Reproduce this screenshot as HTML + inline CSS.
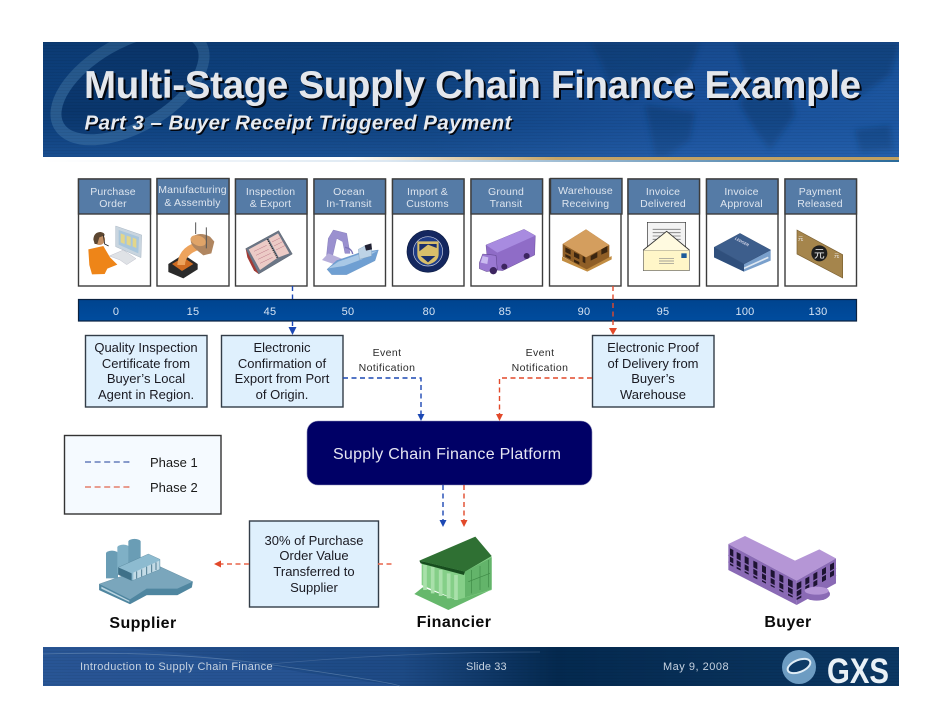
<!DOCTYPE html>
<html><head><meta charset="utf-8"><title>Multi-Stage Supply Chain Finance Example</title>
<style>
html,body{margin:0;padding:0;background:#fff;width:942px;height:728px;overflow:hidden}
svg{display:block}
text{font-family:"Liberation Sans",sans-serif}
.st{font-size:10.5px;fill:#dde5ef;text-anchor:middle;letter-spacing:.15px}
.num{font-size:11px;fill:#d5e3f3;text-anchor:middle;letter-spacing:.2px}
.bx{font-size:13px;fill:#1a1a22;text-anchor:middle}
.ev{font-size:10.5px;fill:#2a2a2a;text-anchor:middle;letter-spacing:.4px}
.ft{font-size:11px;fill:#c6d2e0;letter-spacing:.4px}
.lb{font-size:16px;font-weight:bold;fill:#0a0a0a;text-anchor:middle;letter-spacing:.4px}
</style></head><body>
<svg width="942" height="728" viewBox="0 0 942 728" xmlns="http://www.w3.org/2000/svg">
<defs>
<linearGradient id="hd" x1="0" y1="0" x2="1" y2="0"><stop offset="0" stop-color="#0c3d78"/><stop offset=".45" stop-color="#0f427f"/><stop offset=".75" stop-color="#1a5099"/><stop offset="1" stop-color="#1c56a0"/></linearGradient>
<linearGradient id="hv" x1="0" y1="0" x2="0" y2="1"><stop offset="0" stop-color="#062a55" stop-opacity=".2"/><stop offset=".6" stop-color="#1b5aa8" stop-opacity="0"/><stop offset="1" stop-color="#3a78c8" stop-opacity=".3"/></linearGradient>
<linearGradient id="gold" x1="0" y1="0" x2="1" y2="0"><stop offset="0" stop-color="#fff"/><stop offset=".36" stop-color="#fff"/><stop offset=".6" stop-color="#c4a468"/><stop offset="1" stop-color="#c0a060"/></linearGradient>
<linearGradient id="below" x1="0" y1="0" x2="1" y2="0"><stop offset="0" stop-color="#fff"/><stop offset=".4" stop-color="#dde8f2"/><stop offset="1" stop-color="#2a6a9a"/></linearGradient>
<linearGradient id="ftg" x1="0" y1="0" x2="1" y2="0"><stop offset="0" stop-color="#25508e"/><stop offset=".42" stop-color="#1d4a85"/><stop offset=".6" stop-color="#04294f"/><stop offset="1" stop-color="#0b3763"/></linearGradient>
<linearGradient id="bar" x1="0" y1="0" x2="0" y2="1"><stop offset="0" stop-color="#00448f"/><stop offset="1" stop-color="#004c9e"/></linearGradient>
<pattern id="lines" width="4" height="3" patternUnits="userSpaceOnUse"><rect width="4" height="1" fill="#000" opacity=".05"/></pattern>
<clipPath id="hc"><rect x="43" y="42" width="856" height="115"/></clipPath>
<filter id="bl" x="-10%" y="-10%" width="120%" height="120%"><feGaussianBlur stdDeviation="3"/></filter>
</defs>

<!-- header -->
<rect x="43" y="42" width="856" height="115" fill="url(#hd)"/>
<g clip-path="url(#hc)">
<ellipse cx="130" cy="85" rx="82" ry="42" transform="rotate(-30 130 85)" fill="#0a3468" stroke="#336596" stroke-width="11" opacity=".75"/>
<g fill="#0c3a70" opacity=".55" filter="url(#bl)">
<path d="M590 42 L700 42 L690 70 L660 85 L630 100 L610 85 L600 60Z"/>
<path d="M645 105 L695 112 L690 140 L665 157 L655 157 L650 130Z"/>
<path d="M735 42 L900 42 L890 75 L860 95 L810 85 L770 85 L745 75Z"/>
<path d="M745 85 L790 90 L795 115 L770 150 L755 130 L740 105Z"/>
<path d="M855 130 L890 125 L893 150 L860 152Z"/>
</g>
</g>
<rect x="43" y="42" width="856" height="115" fill="url(#hv)"/>
<rect x="43" y="42" width="856" height="115" fill="url(#lines)"/>
<rect x="43" y="157" width="856" height="3" fill="url(#gold)"/>
<rect x="43" y="160" width="856" height="2" fill="url(#below)"/>

<g font-weight="bold">
<text x="86" y="100" font-size="38.5" fill="#02060f" textLength="777" lengthAdjust="spacing">Multi-Stage Supply Chain Finance Example</text>
<text x="84" y="98" font-size="38.5" fill="#e4e7ec" textLength="777" lengthAdjust="spacing">Multi-Stage Supply Chain Finance Example</text>
<text x="86" y="131" font-size="20.5" font-style="italic" fill="#02060f" textLength="427" lengthAdjust="spacing">Part 3 – Buyer Receipt Triggered Payment</text>
<text x="84.5" y="129.5" font-size="20.5" font-style="italic" fill="#e8ebef" textLength="427" lengthAdjust="spacing">Part 3 – Buyer Receipt Triggered Payment</text>
</g>

<!-- stage boxes -->
<g stroke="#3c3c3c" stroke-width="1.4">
<g fill="#fff">
<rect x="78.5" y="179" width="72" height="107"/><rect x="157" y="179" width="72" height="107"/><rect x="235.5" y="179" width="71.5" height="107"/><rect x="314" y="179" width="71.5" height="107"/><rect x="392.5" y="179" width="71.5" height="107"/><rect x="471" y="179" width="71.5" height="107"/><rect x="549.5" y="179" width="71.5" height="107"/><rect x="628" y="179" width="71.5" height="107"/><rect x="706.5" y="179" width="71.5" height="107"/><rect x="785" y="179" width="71.5" height="107"/>
</g>
<g fill="#557ba6">
<rect x="78.5" y="179" width="72" height="35"/><rect x="157" y="178.5" width="72" height="35.5"/><rect x="235.5" y="179" width="71.5" height="35"/><rect x="314" y="179" width="71.5" height="35"/><rect x="392.5" y="179" width="71.5" height="35"/><rect x="471" y="179" width="71.5" height="35"/><rect x="550.5" y="178.5" width="71.5" height="35.5"/><rect x="628" y="179" width="71.5" height="35"/><rect x="706.5" y="179" width="71.5" height="35"/><rect x="785" y="179" width="71.5" height="35"/>
</g>
</g>
<g class="lab">
<text class="st" x="113" y="195">Purchase</text><text class="st" x="113" y="207">Order</text>
<text class="st" x="192.5" y="193">Manufacturing</text><text class="st" x="192.5" y="206">&amp; Assembly</text>
<text class="st" x="270.5" y="195">Inspection</text><text class="st" x="270.5" y="207">&amp; Export</text>
<text class="st" x="349" y="195">Ocean</text><text class="st" x="349" y="207">In-Transit</text>
<text class="st" x="427.5" y="195">Import &amp;</text><text class="st" x="427.5" y="207">Customs</text>
<text class="st" x="506" y="195">Ground</text><text class="st" x="506" y="207">Transit</text>
<text class="st" x="585.5" y="194">Warehouse</text><text class="st" x="585.5" y="207">Receiving</text>
<text class="st" x="663" y="195">Invoice</text><text class="st" x="663" y="207">Delivered</text>
<text class="st" x="741.5" y="195">Invoice</text><text class="st" x="741.5" y="207">Approval</text>
<text class="st" x="820" y="195">Payment</text><text class="st" x="820" y="207">Released</text>
</g>

<!-- icons left (zoom coords) -->
<g transform="translate(70,170) scale(.33333)">
 <!-- person -->
 <path d="M137 168 L215 195 L213 263 L137 230Z" fill="#c9d5df" stroke="#8fa0b0"/>
 <path d="M146 180 L207 201 L205 250 L146 224Z" fill="#a9c6dc"/>
 <path d="M152 190 L164 195 L164 222 L152 217Z M170 197 L182 201 L182 228 L170 223Z M188 203 L199 207 L199 234 L188 229Z" fill="#e3d68a"/>
 <path d="M118 258 L160 240 L198 266 L170 284 L150 270Z" fill="#dfe2e6" stroke="#aab"/>
 <path d="M55 238 L100 228 L120 262 L142 284 L112 296 L104 312 L66 313 L58 285Z" fill="#ee8518"/>
 <circle cx="88" cy="208" r="17" fill="#c49166"/>
 <path d="M70 208 Q72 186 92 186 Q104 188 104 196 L88 202 L82 222 L74 222Z" fill="#5c4630"/>
 <path d="M100 195 L104 222 L116 228" fill="none" stroke="#222" stroke-width="2.5"/>
 <!-- crucible -->
 <path d="M295 282 L340 253 L383 282 L383 298 L340 325 L295 306Z" fill="#2a2a2a"/>
 <path d="M306 282 L340 262 L370 282 L336 303Z" fill="#cf6c22"/>
 <path d="M365 222 Q325 240 322 285 L345 285 Q345 255 385 240Z" fill="#eda35c"/>
 <path d="M362 205 Q385 182 420 200 L433 215 L424 250 L400 256 L380 240 Q360 225 362 205Z" fill="#b08660"/>
 <ellipse cx="385" cy="212" rx="24" ry="15" fill="#e0a468" transform="rotate(20 385 212)"/>
 <path d="M377 157 V192 M409 172 V235" stroke="#555" stroke-width="3"/>
 <!-- book -->
 <path d="M527 236 L626 182 L667 252 L566 312Z" fill="#6b7686" stroke="#3e4552"/>
 <path d="M527 236 L566 312 L552 302 L532 262Z" fill="#a33a34"/>
 <path d="M536 238 L592 208 L622 264 L570 300Z" fill="#eccbc6"/>
 <path d="M596 206 L624 190 L658 250 L626 262Z" fill="#eccbc6"/>
 <path d="M592 208 L622 264" stroke="#222" stroke-width="4" stroke-dasharray="3 3"/>
 <path d="M552 244 L590 226 M558 256 L596 238 M564 268 L602 250 M570 280 L608 262 M606 216 L634 202 M612 228 L640 214 M618 240 L646 226" stroke="#b78" stroke-width="1.5"/>
 <!-- ship -->
 <path d="M790 180 L830 190 L840 250 L825 250 L818 215 L800 205 L785 270 L768 272 L775 205Z" fill="#9a90cf" stroke="#6e65ab"/>
 <path d="M756 270 L808 288 L825 270 L775 250Z" fill="#b6aeda"/>
 <path d="M825 232 Q845 235 848 252" fill="none" stroke="#7d74b8" stroke-width="4"/>
 <path d="M771 298 L800 272 L870 248 L925 240 L915 272 L830 314 L785 314Z" fill="#6f9fd2" stroke="#5a8abc"/>
 <path d="M775 295 L805 275 L870 252 L922 243 L875 268 L822 288Z" fill="#a8c8e6"/>
 <path d="M865 238 L890 225 L905 235 L905 258 L868 268Z" fill="#bdd3e6" stroke="#6b8fb0"/>
 <path d="M884 226 L904 220 L906 238 L888 242Z" fill="#223"/>
 <!-- seal -->
 <circle cx="1074" cy="244" r="63" fill="#14275f" stroke="#0a1a40" stroke-width="2"/>
 <circle cx="1074" cy="244" r="44" fill="#1f3c86" stroke="#c9cfe0" stroke-width="2"/>
 <path d="M1042 214 H1106 V252 Q1106 275 1074 284 Q1042 275 1042 252Z" fill="#d9bf6a"/>
 <path d="M1048 222 H1100 V234 L1074 224 L1048 244Z" fill="#1b2f6b"/>
 <path d="M1052 258 H1096 L1074 277Z" fill="#1b2f6b"/>
</g>

<!-- icons right -->
<g transform="translate(460,170) scale(.33333)">
 <!-- truck -->
 <path d="M78 225 L192 178 L226 197 L224 255 L128 302 L108 300 L84 292Z" fill="#8f6cc7" stroke="#4a2f7a"/>
 <path d="M78 225 L192 178 L226 197 L112 248Z" fill="#a88be0"/>
 <path d="M58 278 L68 252 L108 256 L112 300 L80 305 L58 296Z" fill="#9a78d2" stroke="#3d2765"/>
 <path d="M68 258 L85 262 L82 282 L62 278Z" fill="#cabaf0"/>
 <ellipse cx="100" cy="302" rx="11" ry="11" fill="#3d2560"/><ellipse cx="133" cy="290" rx="9" ry="9" fill="#3d2560"/><ellipse cx="200" cy="258" rx="9" ry="9" fill="#3d2560"/>
 <!-- pallet -->
 <path d="M308 222 L378 178 L448 225 L448 265 L380 300 L308 260Z" fill="#8f5e26"/>
 <path d="M308 222 L378 178 L448 225 L378 262Z" fill="#d49e5e"/>
 <path d="M316 232 L332 240 V254 L316 246Z M342 246 L358 254 V268 L342 260Z M368 258 L376 262 V280 L368 276Z M316 252 L332 260 V268 L316 260Z M342 268 L358 276 V284 L342 276Z M392 258 L412 246 V262 L392 272Z M424 238 L442 228 V246 L424 254Z" fill="#3a2510"/>
 <path d="M306 260 L380 298 L455 258 L455 268 L382 305 L306 272Z" fill="#c28d42"/>
 <!-- envelope -->
 <path d="M562 157 H677 V240 H562Z" fill="#f3f3f3" stroke="#333" stroke-width="2"/>
 <path d="M578 178 H662 M578 188 H662 M578 198 H662 M578 208 H662" stroke="#777" stroke-width="2.5"/>
 <rect x="550" y="240" width="138" height="62" fill="#fff6c8" stroke="#666" stroke-width="2"/>
 <path d="M550 240 L620 184 L688 240" fill="#fffae0" stroke="#333" stroke-width="2.5"/>
 <rect x="664" y="250" width="16" height="14" fill="#1c5a9a"/>
 <path d="M597 266 H642 M597 273 H642 M597 280 H642" stroke="#888" stroke-width="2"/>
 <!-- ledger -->
 <path d="M762 232 L840 190 L932 240 L932 272 L852 305 L762 262Z" fill="#7aa0cc"/>
 <path d="M772 262 L852 295 L925 262" fill="none" stroke="#dfe8f2" stroke-width="5"/>
 <path d="M762 232 L840 190 L932 240 L852 282Z" fill="#3d5e8c" stroke="#2a4368"/>
 <path d="M762 232 L852 282 V305 L762 262Z" fill="#2f4f7c"/>
 <text x="0" y="0" transform="translate(824 208) rotate(28)" font-size="11" font-weight="bold" font-style="italic" fill="#dde">LEDGER</text>
 <!-- banknote -->
 <path d="M1011 180 L1148 254 V324 L1011 252Z" fill="#a5854c" stroke="#7a5f30" stroke-width="2"/>
 <circle cx="1078" cy="250" r="24" fill="#1e1e1e"/>
 <text x="1078" y="262" font-size="32" text-anchor="middle" fill="#eee" style='font-family:"Liberation Sans","Noto Sans CJK SC",sans-serif'>元</text>
 <text x="1022" y="212" font-size="16" text-anchor="middle" fill="#eee" style='font-family:"Liberation Sans","Noto Sans CJK SC",sans-serif'>元</text>
 <text x="1130" y="262" font-size="16" text-anchor="middle" fill="#eee" style='font-family:"Liberation Sans","Noto Sans CJK SC",sans-serif'>元</text>
</g>

<!-- timeline bar -->
<rect x="78.5" y="299.5" width="778" height="21.5" fill="url(#bar)" stroke="#0b2240" stroke-width="1.2"/>
<g>
<text class="num" x="116" y="315">0</text><text class="num" x="193" y="315">15</text><text class="num" x="270" y="315">45</text><text class="num" x="348" y="315">50</text><text class="num" x="429" y="315">80</text><text class="num" x="505" y="315">85</text><text class="num" x="584" y="315">90</text><text class="num" x="663" y="315">95</text><text class="num" x="745" y="315">100</text><text class="num" x="818" y="315">130</text>
</g>

<!-- text boxes -->
<g fill="#dff0fd" stroke="#333d48" stroke-width="1.4">
<rect x="85.5" y="335.5" width="121.5" height="71.5"/>
<rect x="221.5" y="335.5" width="121.5" height="71.5"/>
<rect x="592.5" y="335.5" width="121.5" height="71.5"/>
<rect x="249.5" y="521" width="129" height="86"/>
</g>
<text class="bx" x="146" y="352">Quality Inspection</text><text class="bx" x="146" y="368">Certificate from</text><text class="bx" x="146" y="383">Buyer’s Local</text><text class="bx" x="146" y="399">Agent in Region.</text>
<text class="bx" x="282" y="352">Electronic</text><text class="bx" x="282" y="368">Confirmation of</text><text class="bx" x="282" y="383">Export from Port</text><text class="bx" x="282" y="399">of Origin.</text>
<text class="bx" x="653" y="352">Electronic Proof</text><text class="bx" x="653" y="368">of Delivery from</text><text class="bx" x="653" y="383">Buyer’s</text><text class="bx" x="653" y="399">Warehouse</text>
<text class="bx" x="314" y="545">30% of Purchase</text><text class="bx" x="314" y="560">Order Value</text><text class="bx" x="314" y="576">Transferred to</text><text class="bx" x="314" y="592">Supplier</text>

<text class="ev" x="387" y="356">Event</text><text class="ev" x="387" y="371">Notification</text>
<text class="ev" x="540" y="356">Event</text><text class="ev" x="540" y="371">Notification</text>

<!-- platform -->
<rect x="307" y="421" width="285" height="64" rx="11" fill="#000066" stroke="#8c8cb8" stroke-width=".6"/>
<text x="333" y="459" font-size="16" fill="#e6e6f2" textLength="228" lengthAdjust="spacing">Supply Chain Finance Platform</text>

<!-- legend -->
<rect x="64.5" y="435.5" width="156.5" height="78.5" fill="#f5faff" stroke="#333" stroke-width="1.4"/>
<path d="M85 462 H133" stroke="#1d3f9a" stroke-width="1.1" stroke-dasharray="6 3.6"/>
<path d="M85 487 H133" stroke="#dc4022" stroke-width="1.1" stroke-dasharray="6 3.6"/>
<text x="150" y="467" font-size="13" fill="#1a1a1a">Phase 1</text>
<text x="150" y="492" font-size="13" fill="#1a1a1a">Phase 2</text>

<!-- connectors -->
<g fill="none" stroke-width="1.4" stroke-dasharray="5 3.5">
<path d="M292.5 286 V299" stroke="#1c48b4"/>
<path d="M292.5 321 V328" stroke="#1c48b4"/>
<path d="M613 286 V330" stroke="#e2492a"/>
<path d="M343 378 H421 V415" stroke="#1c48b4"/>
<path d="M592 378 H499.5 V415" stroke="#e2492a"/>
<path d="M443 485 V521" stroke="#1c48b4"/>
<path d="M464 485 V521" stroke="#e2492a"/>
<path d="M249 564 H220" stroke="#e9654a"/>
<path d="M378 564 H392" stroke="#e9654a"/>
</g>
<g fill="#1c48b4">
<path d="M288.5 327 H296.5 L292.5 335Z"/>
<path d="M417.5 414 H424.5 L421 421Z"/>
<path d="M439.5 520 H446.5 L443 527Z"/>
</g>
<g fill="#e2492a">
<path d="M609 328 H617 L613 335Z"/>
<path d="M496 414 H503 L499.5 421Z"/>
<path d="M460.5 520 H467.5 L464 527Z"/>
<path d="M221 560.5 V567.5 L214 564Z"/>
</g>

<!-- factory / bank -->
<g transform="translate(80,510) scale(.33333)">
 <path d="M58 222 L150 190 L240 170 L338 215 L335 232 L292 255 L200 255 L150 282 L58 240Z" fill="#7aa6bc" stroke="#4c7a90"/>
 <path d="M58 222 L150 268 L200 236 L292 236 L338 215 L335 232 L292 255 L200 255 L150 282 L58 240Z" fill="#4f86a0"/>
 <path d="M64 230 L148 272 V276 L64 236Z" fill="#bcd6e2"/>
 <path d="M78 130 A18 8 0 0 1 114 130 V205 H78Z" fill="#6a9db5"/>
 <path d="M112 112 A18 8 0 0 1 148 112 V190 H112Z" fill="#7fb0c6"/>
 <path d="M145 95 A18 8 0 0 1 182 95 V180 H145Z" fill="#6a9db5"/>
 <path d="M115 172 L205 132 L240 148 L240 178 L155 212 L115 194Z" fill="#8dbbd0" stroke="#4c7a90"/>
 <path d="M115 172 L155 190 V212 L115 194Z" fill="#3e7088"/>
 <path d="M160 188 L238 152 V178 L160 210Z" fill="#c3dbe6"/>
 <path d="M170 184 V206 M185 178 V200 M200 170 V194 M215 163 V187 M228 157 V180" stroke="#4c7a90" stroke-width="3"/>
 <!-- bank -->
 <path d="M1003 252 L1028 232 L1130 270 L1232 205 L1232 240 L1105 300Z" fill="#66b86c"/>
 <path d="M1025 158 L1160 105 L1235 140 V240 L1130 270 L1025 225Z" fill="#85cf88"/>
 <path d="M1155 185 L1235 142 V238 L1155 262Z" fill="#63b46a"/>
 <path d="M1175 180 V250 M1200 168 V240 M1225 150 V232 M1165 215 L1230 190" stroke="#3e8a46" stroke-width="2" fill="none"/>
 <path d="M1035 165 V240 M1058 170 V250 M1082 180 V258 M1106 190 V265 M1128 195 V270" stroke="#a9e0aa" stroke-width="11"/>
 <path d="M1018 152 L1186 80 L1235 138 L1155 185Z" fill="#2f7033"/>
 <path d="M1018 152 L1155 185 L1152 195 L1022 160Z" fill="#174d1e"/>
</g>
<g transform="translate(640,520) scale(.33333)">
 <path d="M265 72 L315 48 L465 122 L538 88 L588 115 L470 182Z" fill="#b596d6"/>
 <path d="M265 72 L470 182 V255 L265 150Z" fill="#8a6ab5"/>
 <path d="M470 182 L588 115 V190 L470 255Z" fill="#8a6ab5"/>
 <g fill="#1e1433">
  <path d="M270 85 l10 5 v50 l-10 -5Z M290 96 l12 6 v50 l-12 -6Z M314 108 l12 6 v50 l-12 -6Z M340 122 l12 6 v50 l-12 -6Z M366 135 l12 6 v50 l-12 -6Z M392 148 l12 6 v50 l-12 -6Z M418 162 l12 6 v50 l-12 -6Z M444 176 l14 7 v50 l-14 -7Z M470 190 l14 -7 v50 l-14 7Z M496 176 l12 -7 v50 l-12 7Z M520 162 l12 -7 v50 l-12 7Z M546 148 l12 -7 v40 l-12 7Z M570 134 l12 -7 v40 l-12 7Z"/>
 </g>
 <g stroke="#8a6ab5" stroke-width="4" fill="none">
  <path d="M265 105 L470 212 L588 145"/><path d="M265 125 L470 232 L588 165"/>
 </g>
 <ellipse cx="530" cy="222" rx="40" ry="20" fill="#8a6ab5"/>
 <ellipse cx="530" cy="212" rx="36" ry="12" fill="#b596d6"/>
</g>

<text class="lb" x="143" y="628">Supplier</text>
<text class="lb" x="454" y="627">Financier</text>
<text class="lb" x="788" y="627">Buyer</text>

<!-- footer -->
<rect x="43" y="647" width="856" height="39" fill="url(#ftg)"/>
<path d="M43 647 H110 Q200 652 300 672 L400 686 H43Z" fill="#2b5a9a" opacity=".55"/>
<path d="M43 654 Q170 650 280 666 T400 686" fill="none" stroke="#6d8fb8" stroke-width=".8" opacity=".6"/>
<path d="M270 664 Q400 652 540 652" fill="none" stroke="#6d8fb8" stroke-width=".8" opacity=".4"/>
<rect x="43" y="647" width="856" height="39" fill="url(#lines)"/>
<text class="ft" x="80" y="670" textLength="193" lengthAdjust="spacing">Introduction to Supply Chain Finance</text>
<text class="ft" x="466" y="670" textLength="41" lengthAdjust="spacing">Slide 33</text>
<text class="ft" x="663" y="670" textLength="66" lengthAdjust="spacing">May 9, 2008</text>
<circle cx="799" cy="667" r="17" fill="#6d9cc2"/>
<ellipse cx="799" cy="666" rx="12" ry="6" transform="rotate(-22 799 666)" fill="#0d3a66" stroke="#e0edf6" stroke-width="2"/>
<text x="827" y="683" font-size="35" font-weight="bold" fill="#e9f1f7" textLength="62" lengthAdjust="spacingAndGlyphs">GXS</text>
</svg>
</body></html>
